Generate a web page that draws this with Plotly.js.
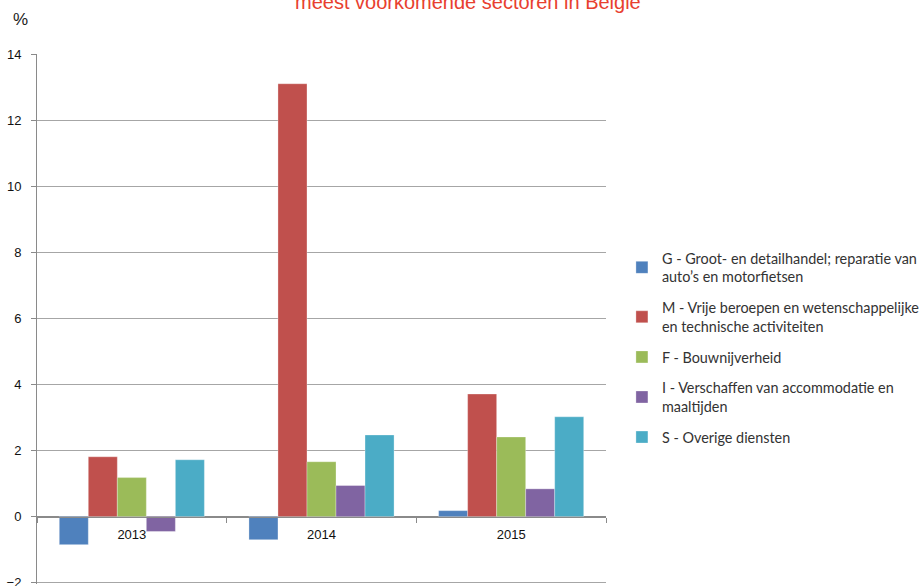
<!DOCTYPE html>
<html><head><meta charset="utf-8">
<script src="https://cdn.plot.ly/plotly-3.0.1.min.js"></script>
<style>html,body{margin:0;padding:0;background:#fff}#chart{width:922px;height:586px}</style>
</head><body><div id="chart"></div>
<script>
const years = ['2013', '2014', '2015'];
const seriesNames = [
  'G - Groot- en detailhandel; reparatie van<br>auto’s en motorfietsen',
  'M - Vrije beroepen en wetenschappelijke<br>en technische activiteiten',
  'F - Bouwnijverheid',
  'I - Verschaffen van accommodatie en<br>maaltijden',
  'S - Overige diensten'
];
const G = [-0.85, -0.70, 0.18];
const M = [1.81, 13.10, 3.71];
const F = [1.18, 1.66, 2.41];
const I = [-0.45, 0.94, 0.84];
const S = [1.72, 2.47, 3.02];
const colors = ['#4F81BD', '#C0504D', '#9BBB59', '#8064A2', '#4BACC6'];
const titleText = 'meest voorkomende sectoren in België';
const yLabel = '%';

const values = [G, M, F, I, S];
const traces = values.map((v, i) => ({
  type: 'bar', x: years, y: v, name: seriesNames[i],
  legendgroup: 'g' + i,
  marker: {color: colors[i], line: {color: 'rgba(255,255,255,0.5)', width: 0.6}},
  hoverinfo: 'y'
}));

const yMin = -2.04, yMax = 14;
const layout = {
  width: 922, height: 586,
  margin: {l: 37, r: 316, t: 54, b: 2, autoexpand: false},
  paper_bgcolor: '#fff', plot_bgcolor: '#fff',
  barmode: 'group', bargap: 0.235, bargroupgap: 0,
  font: {family: 'Liberation Sans, Arial, sans-serif', color: '#222'},
  showlegend: true,
  legend: {
    x: 1.028, xanchor: 'left', y: 0.645, yanchor: 'top',
    traceorder: 'grouped', tracegroupgap: 9,
    font: {family: 'Lato, Open Sans, sans-serif', size: 14.4, color: '#333'},
    bgcolor: 'rgba(0,0,0,0)', itemwidth: 30
  },
  xaxis: {
    type: 'category', anchor: 'free', position: (0 - yMin) / (yMax - yMin),
    showline: true, linecolor: '#8a8a8a', linewidth: 1,
    ticks: 'outside', tickson: 'boundaries', ticklen: 5, tickcolor: '#8a8a8a',
    showgrid: false, zeroline: false,
    tickfont: {family: 'Liberation Sans, Arial, sans-serif', size: 13, color: '#111'},
    ticklabelstandoff: 6
  },
  yaxis: {
    range: [yMin, yMax], dtick: 2, tick0: 0,
    showline: true, linecolor: '#8a8a8a', linewidth: 1,
    ticks: 'outside', ticklen: 5, tickcolor: '#8a8a8a',
    showgrid: true, gridcolor: '#a6a6a6', gridwidth: 1,
    zeroline: true, zerolinecolor: '#8a8a8a', zerolinewidth: 1,
    tickfont: {family: 'Liberation Sans Narrow, Liberation Sans, Arial, sans-serif', size: 13, color: '#111'},
    ticklabelstandoff: 7, ticklabeloverflow: 'allow'
  },
  annotations: [{
    text: titleText, xref: 'paper', yref: 'paper', x: 0.757, y: 1,
    xanchor: 'center', yanchor: 'middle', yshift: 52, showarrow: false,
    font: {family: 'Liberation Sans, Arial, sans-serif', size: 20, color: '#E8402F'}
  }, {
    text: yLabel, xref: 'paper', yref: 'paper', x: -0.046, y: 1, yshift: 35,
    xanchor: 'left', yanchor: 'middle', showarrow: false,
    font: {family: 'Liberation Sans Narrow, Liberation Sans, sans-serif', size: 17, color: '#222'}
  }]
};
Plotly.newPlot('chart', traces, layout, {displayModeBar: false, staticPlot: true});
</script></body></html>
